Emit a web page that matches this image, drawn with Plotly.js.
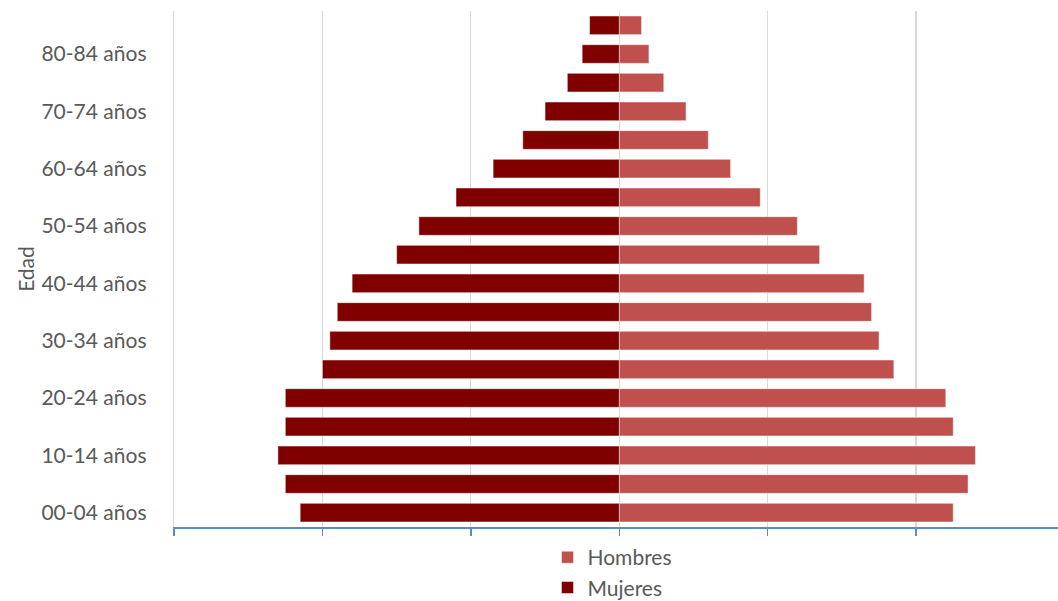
<!DOCTYPE html>
<html>
<head>
<meta charset="utf-8">
<script src="https://cdn.plot.ly/plotly-3.0.1.min.js"></script>
<style>html,body{margin:0;padding:0;background:#fff;overflow:hidden}#chart{width:1058px;height:601px}</style>
</head>
<body>
<div id="chart"></div>
<script>
const categories = ["00-04 años","05-09 años","10-14 años","15-19 años","20-24 años","25-29 años","30-34 años","35-39 años","40-44 años","45-49 años","50-54 años","55-59 años","60-64 años","65-69 años","70-74 años","75-79 años","80-84 años","85-89 años"];
const hombres = [2.25,2.35,2.40,2.25,2.20,1.85,1.75,1.70,1.65,1.35,1.20,0.95,0.75,0.60,0.45,0.30,0.20,0.15];
const mujeres = [2.15,2.25,2.30,2.25,2.25,2.00,1.95,1.90,1.80,1.50,1.35,1.10,0.85,0.65,0.50,0.35,0.25,0.20];
const shownLabels = ["00-04 años","10-14 años","20-24 años","30-34 años","40-44 años","50-54 años","60-64 años","70-74 años","80-84 años"];
const xTicks = [-3,-2,-1,0,1,2,3];

const FONT = "Lato, 'Open Sans', sans-serif";
const traces = [
  {type:'bar', orientation:'h', name:'Hombres', y:categories, x:hombres,
   marker:{color:'#C0504D', line:{color:'rgba(255,255,255,0.6)', width:0.8}}},
  {type:'bar', orientation:'h', name:'Mujeres', y:categories, x:mujeres.map(v=>-v),
   marker:{color:'#800000', line:{color:'rgba(255,255,255,0.6)', width:0.8}}}
];
const layout = {
  width:1058, height:601,
  margin:{l:173.5, r:0, t:11, b:74, pad:0, autoexpand:false},
  paper_bgcolor:'#fff', plot_bgcolor:'#fff',
  barmode:'overlay', bargap:0.35,
  font:{family:FONT, color:'#595959', size:21},
  showlegend:true,
  legend:{orientation:'v', x:0.4225, xanchor:'left', y:-0.0195, yanchor:'top',
          traceorder:'normal', font:{family:FONT, size:21, color:'#595959'}, bgcolor:'rgba(0,0,0,0)'},
  xaxis:{range:[-3,2.956], tickvals:xTicks, showticklabels:false, showgrid:true,
         gridcolor:'#D9D9D9', gridwidth:1.3, zeroline:false,
         showline:true, linecolor:'#5B8BC9', linewidth:1.5,
         ticks:'outside', ticklen:7, tickwidth:1.5, tickcolor:'#5B8BC9', fixedrange:true},
  yaxis:{type:'category', categoryorder:'array', categoryarray:categories,
         tickvals:shownLabels, ticktext:shownLabels, showgrid:false, zeroline:false,
         showline:true, linecolor:'#D9D9D9', linewidth:1.3,
         ticks:'outside', ticklen:22, tickcolor:'rgba(0,0,0,0)',
         tickfont:{family:FONT, size:21, color:'#595959'},
         title:{text:'Edad', font:{family:FONT, size:21, color:'#595959'}, standoff:1}, fixedrange:true}
};
Plotly.newPlot('chart', traces, layout, {displayModeBar:false, staticPlot:true});
</script>
</body>
</html>
